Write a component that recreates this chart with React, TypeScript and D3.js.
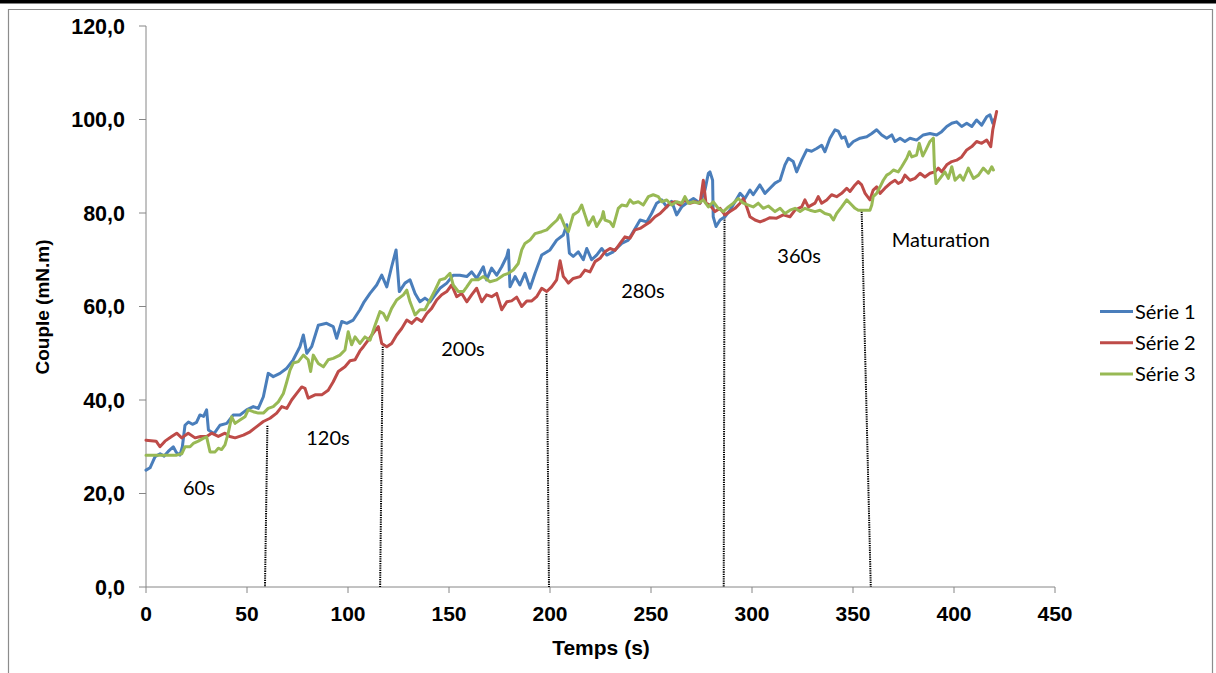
import React from "react";
import * as d3 from "d3";

type Pt = [number, number];

const serie1: Pt[] = [[0,25.0],[2,25.5],[4.5,27.9],[7,28.5],[9,28],[11,29],[13.5,30],[15,28.8],[16.8,28.2],[18,30],[19.3,34.6],[21,35.3],[23,34.8],[25,35.2],[26.7,36.8],[28.5,36.5],[30,37.9],[30.9,33.6],[33.7,32.8],[36.6,34.6],[40,35],[43.2,36.8],[46.5,36.8],[49.8,37.9],[53.1,38.6],[55.6,38.2],[58.1,40.7],[60.5,45.7],[63,45],[66.3,45.7],[69.7,46.8],[72.9,48.6],[76.2,51.4],[77.9,53.9],[79.6,50],[82,51.4],[85.3,56],[89.4,56.4],[92.7,55.7],[94.4,53.2],[96.9,56.8],[99.4,56.4],[102.6,57.1],[105.9,59.3],[108,61],[110.9,62.8],[114.2,64.6],[116.7,66.7],[119.2,64.2],[121.6,68.5],[123.8,72.1],[125.4,63.2],[128.2,65],[130.7,65.7],[133.2,62.8],[135.6,61],[138.1,61.8],[140.6,61],[143.1,62.5],[145.5,63.9],[148.9,65],[152.1,66.7],[155.4,66.7],[158.8,66.4],[161.2,67.4],[163.7,66],[167,68.5],[168.6,65.7],[171.1,68.2],[173.6,66.7],[176.1,68.5],[178.6,70.7],[179.4,72.1],[180.2,64.2],[182.7,66.4],[185.1,64.6],[187.6,67.1],[190.1,63.9],[192.6,67.1],[195.9,71],[200,72.1],[203.3,74.2],[206.6,75.3],[208.3,77.5],[209.6,71.4],[211.5,70.7],[214,71.7],[216.5,70],[218.2,72.4],[220.6,70],[223.1,71],[225.6,72.4],[228.1,71],[231.3,71.7],[235.5,73.5],[238.8,74.2],[241.2,76],[244.6,78.5],[247.9,78.1],[250.3,79.9],[252.8,82.1],[255.3,82.8],[257.8,81.3],[260.2,82.5],[262.7,79.6],[265.2,81.3],[268.5,82.4],[271,83.1],[274.3,82.1],[276.7,84.9],[278.4,88.5],[279.2,88.8],[280.5,87],[280.8,79.2],[282.2,77.1],[284.2,78.5],[286.6,79.2],[289.1,80.6],[291.6,82.4],[294.1,84.2],[296.5,83.1],[299,84.9],[300.6,83.9],[303.9,86],[306.4,84.2],[308.9,85.3],[311.4,86.4],[313.9,87],[316.3,90.3],[318,91.7],[320.4,91],[322.1,88.8],[324.6,91.3],[327.1,93.5],[329.5,93.2],[332,93.8],[334.5,94.5],[336.1,93.1],[338.6,96],[341.1,97.8],[342.7,97.5],[344.4,96],[346,96.3],[347.7,94.2],[350.2,95.3],[353.5,96],[356.8,96.3],[359.3,97],[361.7,97.8],[364.2,96.7],[366.7,96],[369.2,96.7],[370.8,95.3],[373.3,96],[375.7,95.3],[378.2,96],[381.5,95.6],[384.8,96.7],[388.1,97],[391.4,96.7],[393.9,97.4],[396.4,98.5],[398.9,99.2],[401.3,99.5],[403.8,98.5],[406.3,99.2],[408.8,98.5],[411.2,99.9],[413.7,98.8],[416.2,100.6],[417.8,101],[419.2,99.2],[420,100]];

const serie2: Pt[] = [[0,31.4],[5,31.2],[6.9,30],[9.4,31.2],[12.7,32.2],[15.2,32.9],[17.7,31.9],[20.9,32.9],[24.3,31.9],[27,32.2],[30,32.2],[32.5,32.9],[35.8,32.2],[39.1,32.9],[41.5,32.2],[44.1,31.9],[48.2,32.5],[51.5,33.2],[54.8,34.3],[58.1,35.4],[61.4,36.1],[64.7,37.2],[67.2,38.6],[69.7,38.2],[72.1,40],[74.6,41.4],[77.1,42.8],[78.7,42.5],[80.3,40.4],[83.7,41.1],[87,41.1],[90.2,42.1],[92.7,43.9],[95.2,46.1],[98.5,47.1],[101,48.4],[103.5,48.6],[105.9,50.5],[107.6,51.4],[110,52.8],[112.5,54.3],[115,55.7],[116.7,52.1],[119.2,51.4],[121.6,52.1],[124.1,53.9],[126.6,55.3],[129.1,57.1],[131.5,56.4],[134,57.5],[136.5,56.8],[139,58.5],[141.4,59.6],[143.9,61.4],[146.4,62.5],[148.9,63.2],[151.3,64.6],[153.8,62.1],[156.3,62.8],[158.8,61],[161.2,62.5],[163.7,63.9],[166.2,61],[168.6,62.5],[171.1,62.1],[173.6,62.8],[176.1,59.3],[178.6,61],[181,61.2],[183.5,62],[186,60],[188.5,61.2],[191,61.2],[193.4,62.1],[195.9,63.9],[198.4,63.2],[200.8,64.2],[203.3,65.7],[205,69.8],[206.6,66.4],[207.4,66],[209.1,65],[211.5,66],[214.9,66.4],[217.3,67.8],[219.8,67.4],[222.3,69.6],[224.8,70.3],[227.2,71.7],[229.7,72.4],[232.2,72],[234.7,73.5],[237.1,74.9],[239.6,74.6],[242.1,76.4],[244.6,76.7],[247,77.4],[249.5,78.1],[252,79.2],[254.5,79.9],[257,81],[259.4,82.1],[261.9,82.4],[264.4,81.7],[266.8,82.8],[269.3,82.1],[271.8,82.4],[274.3,82.1],[275.9,87],[277.2,82.1],[279.2,81.7],[281.7,80.3],[284.2,81],[286.6,79.6],[289.1,80.3],[291.6,81],[294.1,82.1],[295.7,83.1],[297.4,81.3],[299,79.2],[301.5,78.5],[304,78.1],[306.4,78.5],[308.9,79],[312.2,78.9],[315.5,79.6],[318.8,79.2],[321.3,80.6],[324.6,81.3],[326.2,82.8],[327.9,81.3],[331.2,82.1],[332.8,83.5],[334.5,82.1],[337,82.8],[339.4,83.9],[341.9,83.5],[344.4,84.2],[346.9,85.3],[348.5,84.6],[351,86],[352.6,86.7],[354.3,86],[356,84.2],[358.4,82.8],[360,84.9],[361.7,85.6],[363.4,84.2],[365.8,85.3],[368.3,86.3],[370.8,87],[372.4,86.3],[374.1,86.7],[375.7,88.1],[378.2,87],[380.7,87.4],[383.2,88.5],[385.6,87.7],[388.1,88.5],[390.6,88.8],[392.2,89.6],[393.9,88.8],[396.4,90.3],[398.9,91],[401.3,91.3],[403.8,92],[406.3,93.5],[408.8,94.2],[411.2,95.3],[413.7,94.9],[416.2,95.6],[418.2,94.2],[419.2,97.8],[421.1,101.7]];

const serie3: Pt[] = [[0,28.2],[15.2,28.2],[17.7,28.5],[19.3,30],[21.8,30],[23.4,30.7],[25.9,31.2],[28.3,31.8],[30,32.1],[31.7,28.9],[34.2,28.9],[35.8,29.7],[37.4,29.4],[39.1,30.4],[40.7,32.9],[42.4,36.4],[44.1,35],[46.5,35.7],[49,36.4],[50.6,37.9],[53.1,37.5],[55.6,37.2],[58.1,37.2],[60.5,38.2],[63,38.6],[65.5,39.6],[68,41.4],[69.7,43.9],[71.3,46.4],[72.9,47.9],[75.4,48.2],[77.9,49.6],[80.3,48.6],[81.5,46.1],[82.8,49.6],[85.3,47.8],[87.8,47.1],[90.2,48.6],[92.7,48.9],[96,49.6],[98.5,50.7],[100.1,54.6],[101.8,51.8],[103.5,53.5],[105.9,52.1],[108.4,53.5],[110.9,52.8],[113.4,56],[115.8,58.9],[117.5,58.5],[119.2,57.1],[121.6,59.6],[124.1,61.4],[127.4,62.5],[129.1,63.5],[130.7,61],[133.2,58.2],[135.6,59.3],[138.1,59.3],[140.6,61.4],[143.1,63.5],[145.5,65.7],[148,66],[150.5,67.1],[152.1,64.6],[154.6,63.2],[157.1,63.2],[158.8,64.2],[161.2,65.7],[164.5,65.7],[167,66.4],[170.3,65.3],[173.6,65.7],[176.9,66.7],[179.4,67.1],[181.8,67.8],[184.3,69.2],[186,72.1],[187.6,73.5],[190.1,74.2],[192.6,75.6],[195.9,76],[198.4,76.4],[201,77.5],[203.5,78.5],[205,79.6],[207.4,77.1],[209.1,76],[211.5,79.6],[214,80.3],[215.7,81.7],[217.3,79.6],[219,77.4],[221.4,79.2],[223.1,77.1],[225.6,78.9],[226.4,80.3],[227.2,78.5],[229.7,78.1],[231.3,77.1],[233.8,81],[235.5,81.7],[238,81.5],[239.6,82.8],[241.2,82.1],[243.7,82.4],[246.2,81.7],[248.7,83.5],[251.1,83.9],[253.6,83.5],[255.3,82.4],[257.8,82.8],[260.2,81.7],[262.7,82.4],[265.2,82.1],[266.8,83.5],[268.5,82.1],[271,82.4],[273.4,82.1],[275.9,82.8],[278.4,81.3],[280.8,82.4],[283.3,81],[285.8,80.3],[288.3,81.3],[290.8,82.1],[293.2,83.1],[295.7,82.1],[298.2,81.7],[300.6,81.3],[303.1,82.1],[305.6,81],[308.1,81.5],[311.4,80.3],[313.9,81],[316.3,79.9],[318.8,80.6],[321.3,81],[323.8,80.3],[326.2,81],[328.7,80.6],[331.2,80.3],[333.7,80.6],[336.1,79.9],[338.6,79.6],[340.3,78.5],[341.9,79.9],[344.4,81.3],[346.9,82.8],[349.4,81.7],[351,81],[352.6,80.6],[358.4,80.6],[359.3,81.7],[360,83.5],[361.7,84.2],[363.4,85.6],[365,87],[366.7,88.1],[368.3,88.5],[370,89.2],[372.4,88.8],[374.1,89.9],[376.6,91.7],[377.9,93.1],[379.1,92],[381.5,92.4],[382.8,94.9],[384.5,92.2],[386.1,93.5],[388.1,95.3],[389.8,96],[390.3,89.9],[391.1,86.3],[393.1,87.4],[395.5,88.8],[397.2,87.4],[398.9,89.9],[400.5,87],[403,88.1],[404.6,87],[407.1,89.6],[409.6,87.4],[412.1,88.1],[414.5,89.6],[417,88.5],[418.7,89.9],[419.5,89.2]];

const seriesNames = ["Série 1", "Série 2", "Série 3"];
const seriesColors = ["#4A7EBB", "#BE4B48", "#98B954"];

const xTicks = [0, 50, 100, 150, 200, 250, 300, 350, 400, 450];
const yTicks = [0, 20, 40, 60, 80, 100, 120];

// dotted separator lines: [tTop, vTop, tBottom]
const stageLines: [number, number, number][] = [
  [60.1, 34.5, 58.9],
  [117.2, 51.4, 115.9],
  [198.2, 62.7, 199.5],
  [286.4, 79.6, 286.0],
  [354.3, 80.3, 358.8],
];

// stage labels: text, t, v, anchor
const stageLabels: [string, number, number, string][] = [
  ["60s", 26.2, 19.7, "middle"],
  ["120s", 90.1, 30.4, "middle"],
  ["200s", 156.9, 49.4, "middle"],
  ["280s", 246, 61.8, "middle"],
  ["360s", 323.3, 69.3, "middle"],
  ["Maturation", 369.2, 72.8, "start"],
];

export default function App() {
  const W = 1216, H = 673;
  const x = d3.scaleLinear().domain([0, 450]).range([146, 1055]);
  const y = d3.scaleLinear().domain([0, 120]).range([587, 26]);
  const line = d3.line<Pt>().x(d => x(d[0])).y(d => y(d[1]));
  const fmt = (v: number) => d3.format(".1f")(v).replace(".", ",");
  const data = [serie1, serie2, serie3];
  const axisColor = "#868686";
  const boldFont = "'Liberation Sans', Arial, sans-serif";
  const textFont = "Lato, 'Open Sans', sans-serif";

  return (
    <svg width={W} height={H} style={{ position: "absolute", left: 0, top: 0, background: "#fff" }}>
      <rect x={0} y={0} width={W} height={H} fill="#fff" />
      <rect x={0} y={0} width={W} height={3.5} fill="#000" />
      <path d={`M8.5,${H + 2}V9.5H1212.5V${H + 2}`} fill="none" stroke="#8c8c8c" strokeWidth={1.2} />

      {/* axes */}
      <line x1={x(0)} x2={x(0)} y1={y(120)} y2={y(0)} stroke={axisColor} strokeWidth={1} />
      <line x1={x(0)} x2={x(450)} y1={y(0)} y2={y(0)} stroke={axisColor} strokeWidth={1} />
      {yTicks.map(t => (
        <g key={"y" + t}>
          <line x1={x(0) - 7} x2={x(0)} y1={y(t)} y2={y(t)} stroke={axisColor} />
          <text x={125} y={y(t)} dy="0.36em" textAnchor="end" fontFamily={boldFont} fontWeight="bold" fontSize={21.5} fill="#000">{fmt(t)}</text>
        </g>
      ))}
      {xTicks.map(t => (
        <g key={"x" + t}>
          <line x1={x(t)} x2={x(t)} y1={y(0)} y2={y(0) + 6} stroke={axisColor} />
          <text x={x(t)} y={621} textAnchor="middle" fontFamily={boldFont} fontWeight="bold" fontSize={21} fill="#000">{t}</text>
        </g>
      ))}
      <text x={601} y={655} textAnchor="middle" fontFamily={boldFont} fontWeight="bold" fontSize={21} fill="#000">Temps (s)</text>
      <text transform={`translate(49,307) rotate(-90)`} textAnchor="middle" fontFamily={boldFont} fontWeight="bold" fontSize={19} fill="#000">Couple (mN.m)</text>

      {/* stage separators */}
      {stageLines.map((s, i) => (
        <line key={"s" + i} x1={x(s[0])} y1={y(s[1])} x2={x(s[2])} y2={y(0)} stroke="#000" strokeWidth={2} strokeDasharray="1.3,1" />
      ))}

      {/* series */}
      {data.map((d, i) => (
        <path key={"p" + i} d={line(d) || ""} fill="none" stroke={seriesColors[i]} strokeWidth={3} strokeLinejoin="round" strokeLinecap="round" />
      ))}

      {stageLabels.map((l, i) => (
        <text key={"l" + i} x={x(l[1])} y={y(l[2])} textAnchor={l[3] as any} fontFamily={textFont} fontSize={20} fill="#000">{l[0]}</text>
      ))}

      {/* legend */}
      {seriesNames.map((n, i) => (
        <g key={"leg" + i}>
          <line x1={1100} x2={1133} y1={311.5 + i * 31.3} y2={311.5 + i * 31.3} stroke={seriesColors[i]} strokeWidth={3} />
          <text x={1135} y={311.5 + i * 31.3} dy="0.35em" fontFamily={textFont} fontSize={20} fill="#000">{n}</text>
        </g>
      ))}
    </svg>
  );
}
